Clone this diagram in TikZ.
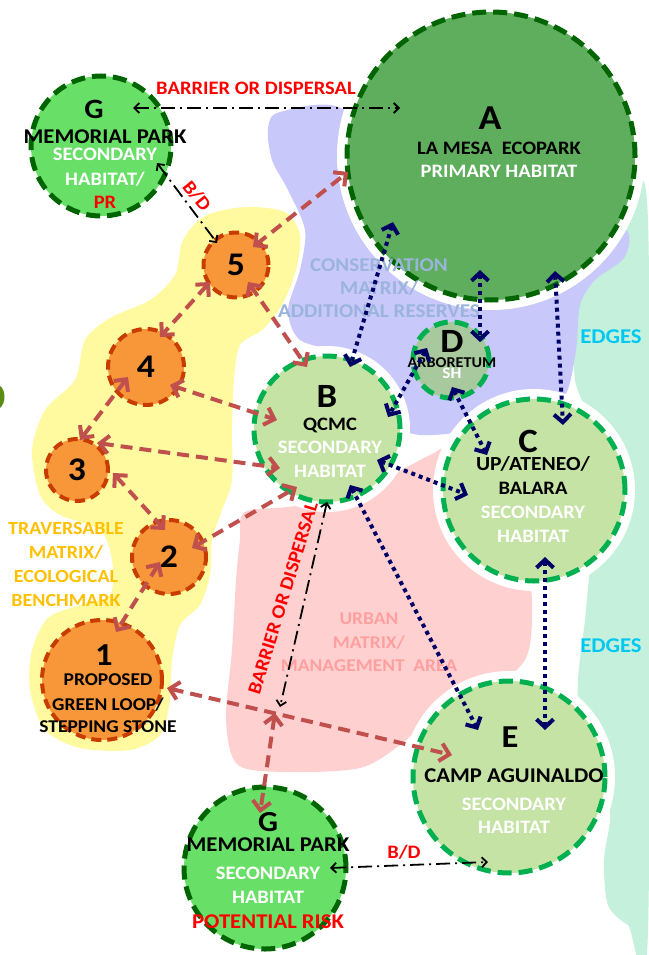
\documentclass[tikz,border=0pt]{standalone}
\usepackage{fontspec}
\setmainfont{Carlito}[FakeStretch=1.08]
\usetikzlibrary{arrows.meta,calc}

\definecolor{corr}{RGB}{192,80,77}
\definecolor{navy}{RGB}{0,0,102}
\definecolor{primfill}{RGB}{94,174,94}
\definecolor{darkring}{RGB}{0,100,0}
\definecolor{riskfill}{RGB}{104,224,104}
\definecolor{secfill}{RGB}{197,227,165}
\definecolor{secring}{RGB}{0,176,80}
\definecolor{arbfill}{RGB}{168,200,158}
\definecolor{stonefill}{RGB}{248,150,58}
\definecolor{stonering}{RGB}{200,60,0}
\definecolor{travfill}{RGB}{255,250,160}
\definecolor{consfill}{RGB}{200,200,250}
\definecolor{urbfill}{RGB}{255,208,208}
\definecolor{edgefill}{RGB}{196,240,220}
\definecolor{constext}{RGB}{155,180,220}
\definecolor{urbtext}{RGB}{255,160,160}
\definecolor{travtext}{RGB}{255,192,0}
\definecolor{edgetext}{RGB}{0,200,240}
\definecolor{alert}{RGB}{255,0,0}
\definecolor{leaf}{RGB}{90,140,20}

\newcommand{\siteid}[2][33]{{\fontsize{#1}{#1}\selectfont #2}}
\newcommand{\habtext}[1]{\textcolor{white}{#1}}
\newcommand{\risktext}[1]{\textcolor{alert}{#1}}

\begin{document}
\begin{tikzpicture}[x=1pt, y=-1pt,
                    line join=round,
                    ]
    \tikzstyle{core}=[circle, draw=darkring, fill=primfill, line width=5pt, dash pattern=on 14pt off 7pt, inner sep=0pt]
    \tikzstyle{risk}=[core, fill=riskfill]
    \tikzstyle{second}=[core, draw=secring, fill=secfill]
    \tikzstyle{arbo}=[second, fill=arbfill]
    \tikzstyle{stone}=[circle, draw=stonering, fill=stonefill, line width=4pt, dash pattern=on 10pt off 6pt, inner sep=0pt, font=\fontsize{33}{33}\selectfont\bfseries]
    \tikzstyle{halo}=[preaction={draw=white, solid, line width=20pt}]
    \tikzstyle{txt}=[align=center, inner sep=0pt, anchor=north, font=\fontsize{19}{20}\selectfont\bfseries]
    \tikzstyle{corridor}=[draw=corr, line width=4pt, dash pattern=on 12pt off 7pt, >={Straight Barb[length=9pt,width=18pt]}, <->]
    \tikzstyle{flow}=[draw=navy, line width=4pt, dash pattern=on 4pt off 4pt, >={Straight Barb[length=8pt,width=17pt]}, <->]
    \tikzstyle{barrier}=[draw=black, line width=1.8pt, dash pattern=on 14pt off 5pt on 2pt off 5pt, >={Straight Barb[length=5pt,width=10pt]}, <->]

    \useasboundingbox (0,0) rectangle (648,955);

    \fill[edgefill] plot[smooth cycle] coordinates {(625,228) (648,222) (648,930) (628,925) (608,905) (604,860) (610,815) (598,775) (580,730) (578,680) (585,620) (590,570) (600,520) (600,470) (590,420) (575,380) (575,320) (585,270) (605,240)};
    \fill[consfill] plot[smooth cycle] coordinates {(268,128) (280,112) (345,110) (420,200) (600,228) (628,232) (624,258) (595,280) (580,305) (576,350) (565,395) (535,400) (500,420) (460,432) (420,435) (395,425) (380,390) (345,355) (300,340) (288,310) (300,270) (305,230) (288,190) (272,160)};
    \fill[urbfill] plot[smooth cycle] coordinates {(245,512) (300,505) (380,480) (430,455) (450,450) (470,500) (500,540) (528,575) (532,620) (525,660) (490,690) (440,710) (400,745) (360,768) (290,772) (238,765) (226,720) (232,650) (236,580) (240,540)};
    \fill[travfill] plot[smooth cycle] coordinates {(183,240) (205,216) (245,207) (285,212) (300,235) (296,270) (282,305) (262,330) (240,345) (234,380) (232,430) (232,480) (222,510) (212,540) (210,575) (200,605) (180,625) (172,660) (170,700) (160,735) (130,750) (80,748) (45,730) (30,690) (32,650) (48,618) (80,605) (110,595) (112,560) (100,530) (60,515) (40,495) (32,450) (45,410) (75,380) (85,340) (110,318) (150,300) (175,275)};
    \fill[leaf] (0,386) .. controls (6,390) and (6,403) .. (0,408) -- cycle;

    \node[core, halo, minimum size=288pt] (A) at (491,156) {};
    \node[risk, minimum size=140pt] (Gt) at (101,146) {};
    \node[risk, minimum size=162pt] (Gb) at (265,868) {};
    \node[second, halo, minimum size=146pt] (B) at (327,429) {};
    \node[second, halo, minimum size=182pt] (C) at (534,490) {};
    \node[second, halo, minimum size=192pt] (E) at (509,777) {};
    \node[arbo, minimum size=76pt] (D) at (451,360) {};
    \node[stone, minimum size=120pt] (s1) at (102,680) {};
    \node[stone, minimum size=74pt] (s2) at (169,557) {2};
    \node[stone, minimum size=62pt] (s3) at (77,470) {3};
    \node[stone, minimum size=76pt] (s4) at (146,367) {4};
    \node[stone, minimum size=65pt] (s5) at (236,265) {5};

    \node[txt] (Gt-txt) at (105,100) {\siteid[28]{G}\hspace*{22pt}\\[5pt] {\fontsize{21}{20}\selectfont MEMORIAL PARK}\\[-3pt] \habtext{SECONDARY}\\[5pt] \habtext{HABITAT/}\\[3pt] \risktext{PR}};
    \node[txt] (A-txt) at (499,107) {\siteid[35]{A}\hspace*{18pt}\\[5pt] LA MESA\ \ ECOPARK\\[3pt] \habtext{PRIMARY HABITAT}};
    \node[txt] (B-txt) at (330,385) {\siteid[34]{B}\hspace*{6pt}\\[3pt] QCMC\\[3pt] \habtext{SECONDARY}\\[4pt] \habtext{HABITAT}};
    \node[txt] (C-txt) at (533,430) {\siteid[34]{C}\hspace*{10pt}\\[-2pt] {\fontsize{20}{20}\selectfont UP/ATENEO/}\\[4pt] BALARA\\[4pt] \habtext{SECONDARY}\\[4pt] \habtext{HABITAT}};
    \node[txt, font=\fontsize{15}{12}\selectfont\bfseries] (D-txt) at (452,330) {\siteid[34]{D}\\[3pt] ARBORETUM\\[-1pt] {\fontsize{16}{12}\selectfont\habtext{SH}}};
    \node[txt] (E-txt) at (514,727) {\siteid[32]{E}\hspace*{8pt}\\[15pt] {\fontsize{21}{20}\selectfont CAMP AGUINALDO}\\[8pt] \habtext{SECONDARY}\\[3pt] \habtext{HABITAT}};
    \node[txt] (Gb-txt) at (268,812) {\siteid[29]{G}\\ {\fontsize{21}{20}\selectfont MEMORIAL PARK}\\[8pt] \habtext{SECONDARY}\\[4pt] \habtext{HABITAT}\\[5pt] {\fontsize{21}{20}\selectfont\risktext{POTENTIAL RISK}}};
    \node[txt, font=\fontsize{18}{20}\selectfont\bfseries] (s1-txt) at (108,645) {\siteid[32]{1}\hspace*{8pt}\\ PROPOSED\\[5pt] GREEN LOOP/\\[2pt] STEPPING STONE};

    \node[txt, text=constext, font=\fontsize{19.5}{23}\selectfont\bfseries] (cons) at (379,259) {CONSERVATION\\MATRIX/\\ADDITIONAL RESERVES};
    \node[txt, text=urbtext, font=\fontsize{18}{23.5}\selectfont\bfseries] (urban) at (369,613) {URBAN\\MATRIX/\\MANAGEMENT\ \ AREA};
    \node[txt, text=travtext, font=\fontsize{18.5}{24}\selectfont\bfseries] (trav) at (66,522) {TRAVERSABLE\\MATRIX/\\ECOLOGICAL\\BENCHMARK};
    \node[txt, anchor=base, text=edgetext, font=\fontsize{21}{21}\selectfont\bfseries] (edge-up) at (611,343) {EDGES};
    \node[txt, anchor=base, text=edgetext, font=\fontsize{21}{21}\selectfont\bfseries] (edge-low) at (611,652) {EDGES};
    \node[txt, anchor=base, text=alert] (bd-top) at (256,95) {BARRIER OR DISPERSAL};
    \node[txt, anchor=center, text=alert, rotate=73] (bd-mid) at (283,598) {BARRIER OR DISPERSAL};
    \node[txt, anchor=center, text=alert, rotate=-51] (bd-g) at (197,196) {B/D};
    \node[txt, anchor=base, text=alert] (bd-low) at (404,858) {B/D};

    \coordinate (cross) at (275,713);

    \draw[corridor] ($(s5)+(17,-18)$) -- ($(A)+(-143,16)$);
    \draw[corridor] ($(s5)+(-26,17)$) -- ($(s4)+(14,-30)$);
    \draw[corridor] ($(s5)+(12,17)$) -- ($(B)+(-20,-62)$);
    \draw[corridor] ($(s4)+(-18,10)$) -- ($(s3)+(3,-30)$);
    \draw[corridor] ($(s4)+(24,18)$) -- ($(B)+(-50,-9)$);
    \draw[corridor] ($(s3)+(20,-27)$) -- ($(B)+(-47,39)$);
    \draw[corridor] ($(s3)+(36,3)$) -- ($(s2)+(-4,-27)$);
    \draw[corridor] ($(s2)+(23,-9)$) -- ($(B)+(-30,58)$);
    \draw[corridor] ($(s2)+(-9,5)$) -- ($(s1)+(14,-48)$);
    \draw[corridor] ($(s1)+(65,8)$) -- ($(E)+(-57,-22)$);
    \draw[corridor] (cross) -- ($(Gb)+(-5,-55)$);

    \draw[flow] ($(A)+(-98,66)$) -- ($(B)+(23,-62)$);
    \draw[flow] ($(A)+(-11,114)$) -- ($(D)+(29,-18)$);
    \draw[flow] ($(A)+(64,115)$) -- ($(C)+(29,-65)$);
    \draw[flow] ($(D)+(-24,-12)$) -- ($(B)+(61,-12)$);
    \draw[flow] ($(D)+(1,27)$) -- ($(C)+(-47,-35)$);
    \draw[flow] ($(B)+(50,31)$) -- ($(C)+(-66,5)$);
    \draw[flow] ($(B)+(23,56)$) -- ($(E)+(-31,-47)$);
    \draw[flow] ($(C)+(11,67)$) -- ($(E)+(36,-47)$);

    \draw[barrier] ($(Gt)+(32,-38)$) -- ($(A)+(-91,-48)$);
    \draw[barrier] ($(Gt)+(56,17)$) -- ($(s5)+(-19,-22)$);
    \draw[barrier] ($(B)+(0,73)$) -- ($(cross)+(5,-6)$);
    \draw[barrier] ($(Gb)+(65,0)$) -- ($(E)+(-21,85)$);
\end{tikzpicture}
\end{document}
